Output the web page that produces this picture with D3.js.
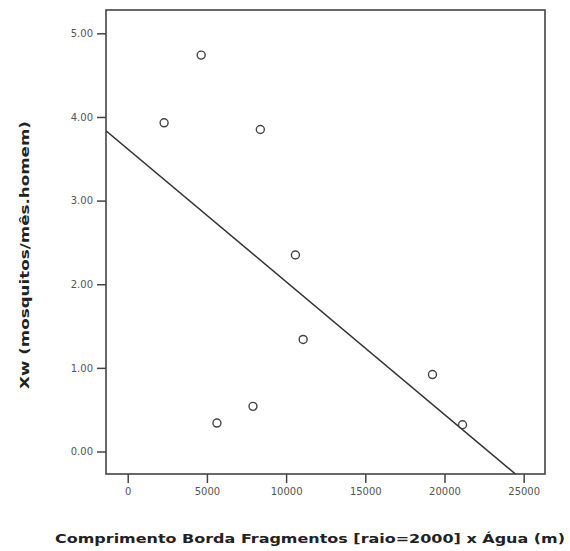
<!DOCTYPE html>
<html>
<head>
<meta charset="utf-8">
<script src="https://cdn.jsdelivr.net/npm/d3@7"></script>
<style>
  body { margin: 0; background: #fff; }
  text { font-family: "DejaVu Sans", Verdana, sans-serif; }
</style>
</head>
<body>
<div id="chart"></div>
<script>
// data
var edgeLength = [4639, 2297, 8373, 10589, 11076, 5633, 7911, 19241, 21139];
var xw = [4.74, 3.93, 3.85, 2.35, 1.34, 0.34, 0.54, 0.92, 0.32];
var xTicks = [0, 5000, 10000, 15000, 20000, 25000];
var yTicks = [0, 1, 2, 3, 4, 5];
// fitted line (intercept, slope)
var fitLine = [3.618, -0.0001588];

var width = 570, height = 551;
var margin = { top: 10, right: 25, bottom: 77, left: 106 };
var plotW = width - margin.left - margin.right,
    plotH = height - margin.top - margin.bottom;

var svg = d3.select("#chart").append("svg")
    .attr("width", width)
    .attr("height", height);

var x = d3.scaleLinear()
    .domain([-1371, 26346])
    .range([0, plotW]);

var y = d3.scaleLinear()
    .domain([-0.269, 5.279])
    .range([plotH, 0]);

var g = svg.append("g")
    .attr("transform", "translate(" + margin.left + "," + margin.top + ")");

// clip for the fit line
svg.append("defs").append("clipPath")
    .attr("id", "plotclip")
    .append("rect")
    .attr("width", plotW)
    .attr("height", plotH);

// axes
var xAxis = g.append("g")
    .attr("transform", "translate(0," + plotH + ")")
    .call(d3.axisBottom(x).tickValues(xTicks).tickSize(9).tickPadding(5).tickFormat(d3.format("d")));

var yAxis = g.append("g")
    .call(d3.axisLeft(y).tickValues(yTicks).tickSize(9).tickPadding(4).tickFormat(d3.format(".2f")));

[xAxis, yAxis].forEach(function(a) {
  a.select(".domain").remove();
  a.selectAll(".tick line").attr("stroke", "#444").attr("stroke-width", 1.5);
  a.selectAll(".tick text")
    .attr("fill", "#555")
    .style("font-size", "10px")
    .style("font-family", "DejaVu Sans, Verdana, sans-serif");
});

// frame
g.append("rect")
    .attr("width", plotW)
    .attr("height", plotH)
    .attr("fill", "none")
    .attr("stroke", "#444")
    .attr("stroke-width", 1.6);

// regression line
var xd = x.domain();
g.append("line")
    .attr("clip-path", "url(#plotclip)")
    .attr("x1", x(xd[0]))
    .attr("y1", y(fitLine[0] + fitLine[1] * xd[0]))
    .attr("x2", x(xd[1]))
    .attr("y2", y(fitLine[0] + fitLine[1] * xd[1]))
    .attr("stroke", "#333")
    .attr("stroke-width", 1.5);

// points
g.selectAll(".pt")
    .data(d3.range(edgeLength.length))
    .enter().append("circle")
    .attr("class", "pt")
    .attr("cx", function(i) { return x(edgeLength[i]); })
    .attr("cy", function(i) { return y(xw[i]); })
    .attr("r", 4)
    .attr("fill", "none")
    .attr("stroke", "#444")
    .attr("stroke-width", 1.4);

// axis titles
svg.append("text")
    .attr("x", 310)
    .attr("y", 543)
    .attr("text-anchor", "middle")
    .attr("textLength", 510)
    .attr("lengthAdjust", "spacingAndGlyphs")
    .style("font-size", "13px")
    .style("font-weight", "bold")
    .attr("fill", "#222")
    .text("Comprimento Borda Fragmentos [raio=2000] x Água (m)");

svg.append("text")
    .attr("transform", "translate(29,255) rotate(-90)")
    .attr("text-anchor", "middle")
    .attr("textLength", 268)
    .attr("lengthAdjust", "spacingAndGlyphs")
    .style("font-size", "13px")
    .style("font-weight", "bold")
    .attr("fill", "#222")
    .text("Xw (mosquitos/mês.homem)");
</script>
</body>
</html>
